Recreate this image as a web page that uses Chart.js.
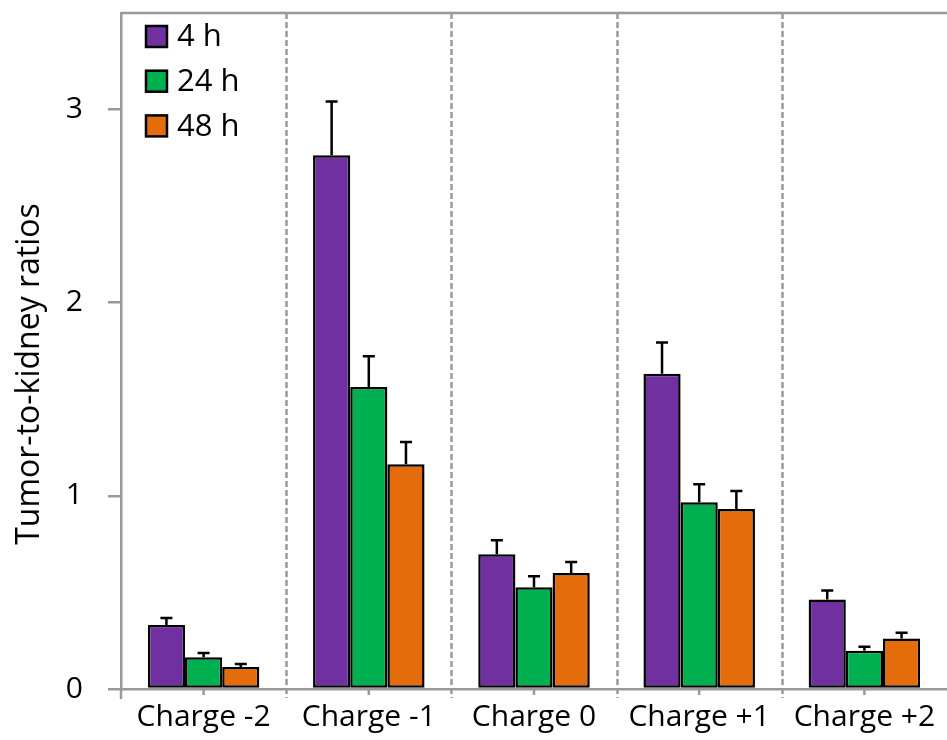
<!DOCTYPE html>
<html>
<head>
<meta charset="utf-8">
<script src="https://cdn.jsdelivr.net/npm/chart.js@4/dist/chart.umd.min.js"></script>
<style>
  html, body { margin: 0; padding: 0; background: #fff; }
</style>
</head>
<body>
<canvas id="chart" width="947" height="740"></canvas>
<script>
// Tumor-to-kidney ratios per charge variant at three time points
const categories = ['Charge -2', 'Charge -1', 'Charge 0', 'Charge +1', 'Charge +2'];
const seriesLabels = ['4 h', '24 h', '48 h'];
const seriesColors = ['#7030A0', '#00B050', '#E46C0A'];

const ratio4h  = [0.331, 2.763, 0.698, 1.632, 0.464];
const ratio24h = [0.165, 1.563, 0.527, 0.967, 0.198];
const ratio48h = [0.114, 1.163, 0.600, 0.932, 0.262];

// upper error (standard deviation) for each bar
const err4h  = [0.036, 0.279, 0.072, 0.162, 0.046];
const err24h = [0.021, 0.160, 0.057, 0.093, 0.021];
const err48h = [0.015, 0.116, 0.057, 0.093, 0.029];

const yTicks = [0, 1, 2, 3];
const yTitle = 'Tumor-to-kidney ratios';

const FONT = 'Open Sans';
const AXIS_GREY = '#999999';

const values = [ratio4h, ratio24h, ratio48h];
const errors = [err4h, err24h, err48h];

const datasets = seriesLabels.map((label, i) => ({
  label,
  data: values[i],
  errors: errors[i],
  backgroundColor: seriesColors[i],
  borderColor: '#000',
  borderWidth: 2.5,
  borderSkipped: false,
  categoryPercentage: 0.675,
  barPercentage: 1.0
}));

const decorations = {
  id: 'decorations',
  beforeDatasetsDraw(chart) {
    const { ctx, chartArea: a, scales: { x } } = chart;
    const n = categories.length;
    const step = (a.right - a.left) / n;
    ctx.save();
    // dashed separators between the groups
    ctx.strokeStyle = AXIS_GREY;
    ctx.lineWidth = 2.5;
    ctx.setLineDash([6, 3]);
    for (let i = 1; i < n; i++) {
      const px = Math.round(a.left + step * i) + 0.5;
      ctx.beginPath();
      ctx.moveTo(px, a.top);
      ctx.lineTo(px, a.bottom + 9);
      ctx.stroke();
    }
    ctx.setLineDash([]);
    // frame line along the top
    ctx.beginPath();
    ctx.moveTo(a.left, a.top);
    ctx.lineTo(a.right, a.top);
    ctx.stroke();
    // small ticks under the category centres and the axis corner
    for (let i = 0; i < n; i++) {
      const cx = x.getPixelForValue(i);
      ctx.beginPath();
      ctx.moveTo(cx, a.bottom);
      ctx.lineTo(cx, a.bottom + 6);
      ctx.stroke();
    }
    ctx.beginPath();
    ctx.moveTo(a.left, a.bottom);
    ctx.lineTo(a.left, a.bottom + 10);
    ctx.stroke();
    ctx.restore();
  },
  afterDatasetsDraw(chart) {
    const { ctx, scales: { y } } = chart;
    ctx.save();
    // upper error bars
    ctx.strokeStyle = '#000';
    ctx.lineWidth = 2.5;
    chart.data.datasets.forEach((ds, di) => {
      const meta = chart.getDatasetMeta(di);
      meta.data.forEach((bar, j) => {
        const top = y.getPixelForValue(ds.data[j]);
        const hi = y.getPixelForValue(ds.data[j] + ds.errors[j]);
        ctx.beginPath();
        ctx.moveTo(bar.x, top);
        ctx.lineTo(bar.x, hi);
        ctx.moveTo(bar.x - 6, hi);
        ctx.lineTo(bar.x + 6, hi);
        ctx.stroke();
      });
    });
    // legend in the upper-left corner of the plot
    ctx.font = `31px "${FONT}"`;
    ctx.textBaseline = 'middle';
    ctx.textAlign = 'left';
    chart.data.datasets.forEach((ds, i) => {
      const cy = 36.5 + i * 44.7;
      ctx.fillStyle = ds.backgroundColor;
      ctx.fillRect(146, cy - 10.5, 21, 21);
      ctx.strokeStyle = '#000';
      ctx.lineWidth = 2.5;
      ctx.strokeRect(146, cy - 10.5, 21, 21);
      ctx.fillStyle = '#000';
      ctx.fillText(ds.label, 177, cy + 1);
    });
    // vertical axis title
    ctx.font = `32px "${FONT}"`;
    ctx.translate(30, 374);
    ctx.rotate(-Math.PI / 2);
    ctx.textAlign = 'center';
    ctx.fillText(yTitle, 0, 0);
    ctx.restore();
  }
};

new Chart(document.getElementById('chart'), {
  type: 'bar',
  data: { labels: categories, datasets },
  options: {
    responsive: false,
    animation: false,
    layout: { padding: { top: 13, right: 0, left: 0, bottom: 0 } },
    plugins: { legend: { display: false }, tooltip: { enabled: false } },
    scales: {
      x: {
        grid: { display: false, drawTicks: false },
        border: { display: true, color: AXIS_GREY, width: 2.5 },
        ticks: {
          padding: 10, color: '#000', autoSkip: false, maxRotation: 0,
          font: { family: FONT, size: 30 }
        },
        afterFit(s) { s.height = 51; s.paddingLeft = 0; s.paddingRight = 0; }
      },
      y: {
        min: 0,
        max: 3.5,
        afterBuildTicks(s) { s.ticks = yTicks.map(v => ({ value: v })); },
        grid: { drawOnChartArea: false, drawTicks: true, tickLength: 13, color: AXIS_GREY, lineWidth: 2.5 },
        border: { display: true, color: AXIS_GREY, width: 2.5 },
        ticks: { padding: 25, color: '#000', font: { family: FONT, size: 30 } },
        afterFit(s) { s.width = 121; s.paddingTop = 0; s.paddingBottom = 0; }
      }
    }
  },
  plugins: [decorations]
});
</script>
</body>
</html>
